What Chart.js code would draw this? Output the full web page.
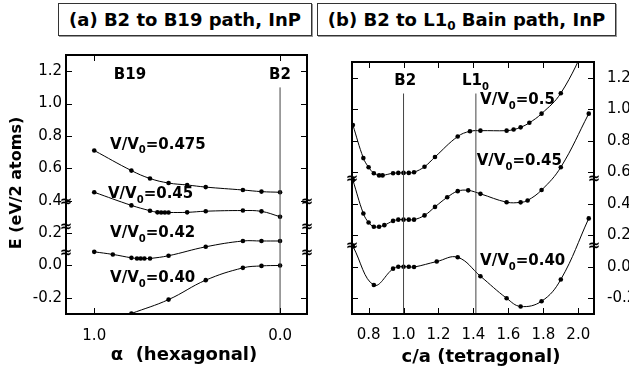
<!DOCTYPE html>
<html>
<head>
<meta charset="utf-8">
<script src="https://cdn.jsdelivr.net/npm/chart.js@4.4.1/dist/chart.umd.min.js"></script>
<style>
  html, body { margin: 0; padding: 0; width: 629px; height: 378px; overflow: hidden; background: #fff; }
  .box {
    position: absolute; top: 3px; height: 31px;
    border: 1px solid #333; box-shadow: 1px 1px 0 #999;
    font: bold 18px "DejaVu Sans", sans-serif; color: #000;
    text-align: center; line-height: 31px;
  }
  .box sub { font-size: 12px; line-height: 0; vertical-align: -4px; }
  canvas { position: absolute; }
</style>
</head>
<body>
<div class="box" style="left:58px;width:252px;">(a) B2 to B19 path, InP</div>
<div class="box" style="left:317px;width:297px;">(b) B2 to L1<sub>0</sub> Bain path, InP</div>
<canvas id="left" width="316" height="338" style="left:0;top:40px"></canvas>
<canvas id="right" width="342" height="338" style="left:318px;top:40px"></canvas>
<script>
// ---- panel (a): B2 -> B19, x = alpha ----
const alpha475 = [1.0, 0.8, 0.7, 0.6, 0.5, 0.4, 0.2, 0.1, 0.0];
const e475 = [0.71, 0.586, 0.537, 0.509, 0.497, 0.484, 0.466, 0.456, 0.452];

const alpha45 = [1.0, 0.8, 0.7, 0.66, 0.64, 0.62, 0.6, 0.5, 0.4, 0.2, 0.1, 0.0];
const e45 = [0.452, 0.371, 0.338, 0.328, 0.327, 0.327, 0.327, 0.328, 0.335, 0.339, 0.334, 0.301];

const alpha42 = [1.0, 0.9, 0.8, 0.77, 0.75, 0.73, 0.7, 0.6, 0.4, 0.2, 0.1, 0.0];
const e42 = [0.084, 0.068, 0.047, 0.043, 0.043, 0.043, 0.043, 0.060, 0.115, 0.151, 0.151, 0.151];

const alpha40 = [0.8, 0.6, 0.4, 0.2, 0.1, 0.0];
const e40 = [-0.297, -0.211, -0.091, -0.015, -0.003, 0.0];

// ---- panel (b): B2 -> L1_0 Bain path, x = c/a ----
const ca50 = [0.71, 0.77, 0.8, 0.83, 0.86, 0.88, 0.94, 0.97, 1.0, 1.03, 1.06, 1.12, 1.18, 1.31, 1.38, 1.44, 1.59, 1.63, 1.67, 1.72, 1.79, 1.9, 2.06];
const eb50 = [0.90, 0.69, 0.632, 0.594, 0.58, 0.58, 0.594, 0.596, 0.596, 0.596, 0.60, 0.635, 0.697, 0.827, 0.86, 0.864, 0.864, 0.871, 0.885, 0.914, 0.972, 1.102, 1.44];

const ca45 = [0.71, 0.77, 0.8, 0.83, 0.86, 0.89, 0.94, 0.97, 1.0, 1.03, 1.06, 1.12, 1.18, 1.25, 1.31, 1.37, 1.44, 1.59, 1.67, 1.71, 1.79, 1.9, 2.06];
const eb45 = [0.55, 0.338, 0.281, 0.254, 0.254, 0.264, 0.291, 0.299, 0.299, 0.299, 0.299, 0.326, 0.38, 0.441, 0.48, 0.485, 0.463, 0.41, 0.409, 0.421, 0.487, 0.632, 0.972];

const ca40 = [0.71, 0.83, 0.94, 0.97, 1.0, 1.03, 1.06, 1.19, 1.31, 1.44, 1.59, 1.67, 1.79, 1.9, 2.06];
const eb40 = [0.13, -0.116, -0.012, 0.0, 0.0, 0.0, -0.002, 0.033, 0.06, -0.06, -0.20, -0.252, -0.219, -0.081, 0.307];

// reference structures (vertical guide lines)
const leftGuides = [0.0];
const rightGuides = [1.0, 1.414];
const guideTop = 1.1;

// tick labels
const yTicks = [-0.2, 0.0, 0.2, 0.4, 0.6, 0.8, 1.0, 1.2];
const leftXTicks = [1.0, 0.0];
const rightXTicks = [0.8, 1.0, 1.2, 1.4, 1.6, 1.8, 2.0];

// axis breaks (energy shifts between curves)
const leftBreaks = [0.392, 0.237, 0.076];
const rightBreaks = [0.559, 0.132];

const FONT = '"DejaVu Sans", sans-serif';

function curve(xs, ys) {
    return {
        data: xs.map((x, i) => ({ x: x, y: ys[i] })),
        showLine: true,
        borderColor: '#000',
        borderWidth: 1,
        backgroundColor: '#000',
        pointRadius: 2.3,
        pointBorderWidth: 0,
        pointBackgroundColor: '#000',
        tension: 0.4
    };
}

function guide(x, bottom) {
    return {
        data: [{ x: x, y: bottom }, { x: x, y: guideTop }],
        showLine: true,
        borderColor: '#444',
        borderWidth: 1,
        pointRadius: 0,
        tension: 0
    };
}

// draws the frame, inward ticks, break marks and the text labels
const framePlugin = {
    id: 'frame',
    afterDatasetsDraw(chart, args, opts) {
        const ctx = chart.ctx;
        const a = chart.chartArea;
        const xs = chart.scales.x, ys = chart.scales.y;
        ctx.save();
        ctx.strokeStyle = '#000';
        ctx.lineWidth = 1;
        ctx.beginPath();
        xs.ticks.forEach(t => {
            const px = Math.round(xs.getPixelForValue(t.value)) + 0.5;
            ctx.moveTo(px, a.bottom); ctx.lineTo(px, a.bottom - 6);
            ctx.moveTo(px, a.top); ctx.lineTo(px, a.top + 6);
        });
        ys.ticks.forEach(t => {
            const py = Math.round(ys.getPixelForValue(t.value)) + 0.5;
            ctx.moveTo(a.left, py); ctx.lineTo(a.left + 6, py);
            ctx.moveTo(a.right, py); ctx.lineTo(a.right - 6, py);
        });
        ctx.stroke();
        ctx.lineWidth = 2;
        ctx.strokeRect(a.left, a.top, a.right - a.left, a.bottom - a.top);

        // break marks on both side borders
        ctx.fillStyle = '#000';
        ctx.font = 'bold 15px ' + FONT;
        ctx.textAlign = 'center';
        ctx.textBaseline = 'middle';
        (opts.breaks || []).forEach(v => {
            const py = ys.getPixelForValue(v);
            ctx.fillText('\u2248', a.left, py);
            ctx.fillText('\u2248', a.right, py);
        });

        // in-plot labels with optional subscript
        (opts.labels || []).forEach(l => {
            const px = xs.getPixelForValue(l.x);
            const py = ys.getPixelForValue(l.y);
            const big = 'bold 15px ' + FONT, small = 'bold 10px ' + FONT;
            ctx.font = big;
            const w1 = ctx.measureText(l.text).width;
            const w3 = l.rest ? ctx.measureText(l.rest).width : 0;
            ctx.font = small;
            const w2 = l.sub ? ctx.measureText(l.sub).width : 0;
            let x0 = l.align === 'center' ? px - (w1 + w2 + w3) / 2 : px;
            ctx.textAlign = 'left';
            ctx.font = big;
            ctx.fillText(l.text, x0, py);
            if (l.sub) {
                ctx.font = small;
                ctx.fillText(l.sub, x0 + w1, py + 6);
            }
            if (l.rest) {
                ctx.font = big;
                ctx.fillText(l.rest, x0 + w1 + w2, py);
            }
        });

        // axis titles
        (opts.titles || []).forEach(t => {
            ctx.save();
            ctx.translate(t.x, t.y);
            if (t.rotate) ctx.rotate(-Math.PI / 2);
            ctx.font = t.font;
            ctx.textAlign = 'center';
            ctx.textBaseline = 'middle';
            ctx.fillText(t.text, 0, 0);
            ctx.restore();
        });
        ctx.restore();
    }
};

function tickFont() {
    return { family: FONT, size: 15 };
}

// ---- chart (a) ----
new Chart(document.getElementById('left'), {
    type: 'scatter',
    data: {
        datasets: [
            ...leftGuides.map(x => guide(x, -0.3)),
            curve(alpha475, e475),
            curve(alpha45, e45),
            curve(alpha42, e42),
            curve(alpha40, e40)
        ]
    },
    options: {
        responsive: false,
        animation: false,
        events: [],
        layout: { padding: { top: 15, right: 9, left: 0, bottom: 0 } },
        plugins: {
            legend: { display: false },
            tooltip: { enabled: false },
            frame: {
                breaks: leftBreaks,
                labels: [
                    { x: 0.808, y: 1.178, text: 'B19', align: 'center' },
                    { x: 0.0, y: 1.178, text: 'B2', align: 'center' },
                    { x: 0.915, y: 0.745, text: 'V/V', sub: '0', rest: '=0.475' },
                    { x: 0.926, y: 0.44, text: 'V/V', sub: '0', rest: '=0.45' },
                    { x: 0.915, y: 0.20, text: 'V/V', sub: '0', rest: '=0.42' },
                    { x: 0.915, y: -0.079, text: 'V/V', sub: '0', rest: '=0.40' }
                ],
                titles: [
                    { text: '\u03b1  (hexagonal)', x: 184, y: 315, font: 'bold 18px ' + FONT },
                    { text: 'E (eV/2 atoms)', x: 17, y: 143, rotate: true, font: 'bold 16px ' + FONT }
                ]
            }
        },
        scales: {
            x: {
                type: 'linear',
                reverse: true,
                min: -0.145,
                max: 1.152,
                afterBuildTicks: s => { s.ticks = leftXTicks.map(v => ({ value: v })); },
                afterFit: s => { s.height = 64; },
                ticks: { callback: v => v.toFixed(1), font: tickFont(), color: '#000', padding: 13, maxRotation: 0, autoSkip: false },
                grid: { display: false, drawTicks: false },
                border: { display: false }
            },
            y: {
                min: -0.3,
                max: 1.3,
                afterBuildTicks: s => { s.ticks = yTicks.map(v => ({ value: v })); },
                afterFit: s => { s.width = 66; },
                ticks: { callback: v => v.toFixed(1), font: tickFont(), color: '#000', padding: 4, autoSkip: false },
                grid: { display: false, drawTicks: false },
                border: { display: false }
            }
        }
    },
    plugins: [framePlugin]
});

// ---- chart (b) ----
new Chart(document.getElementById('right'), {
    type: 'scatter',
    data: {
        datasets: [
            ...rightGuides.map(x => guide(x, -0.3)),
            curve(ca50, eb50),
            curve(ca45, eb45),
            curve(ca40, eb40)
        ]
    },
    options: {
        responsive: false,
        animation: false,
        events: [],
        layout: { padding: { top: 16, right: 0, left: 34, bottom: 0 } },
        plugins: {
            legend: { display: false },
            tooltip: { enabled: false },
            frame: {
                breaks: rightBreaks,
                labels: [
                    { x: 1.01, y: 1.178, text: 'B2', align: 'center' },
                    { x: 1.334, y: 1.178, text: 'L1', sub: '0' },
                    { x: 1.438, y: 1.055, text: 'V/V', sub: '0', rest: '=0.5' },
                    { x: 1.419, y: 0.670, text: 'V/V', sub: '0', rest: '=0.45' },
                    { x: 1.438, y: 0.033, text: 'V/V', sub: '0', rest: '=0.40' }
                ],
                titles: [
                    { text: 'c/a (tetragonal)', x: 163, y: 317, font: 'bold 18px ' + FONT }
                ]
            }
        },
        scales: {
            x: {
                type: 'linear',
                min: 0.705,
                max: 2.09,
                afterBuildTicks: s => { s.ticks = rightXTicks.map(v => ({ value: v })); },
                afterFit: s => { s.height = 64; },
                ticks: { callback: v => v.toFixed(1), font: tickFont(), color: '#000', padding: 12, maxRotation: 0, autoSkip: false },
                grid: { display: false, drawTicks: false },
                border: { display: false }
            },
            y: {
                position: 'right',
                min: -0.3,
                max: 1.3,
                afterBuildTicks: s => { s.ticks = yTicks.map(v => ({ value: v })); },
                afterFit: s => { s.width = 66; },
                ticks: { callback: v => v.toFixed(1), font: tickFont(), color: '#000', padding: 13, autoSkip: false },
                grid: { display: false, drawTicks: false },
                border: { display: false }
            }
        }
    },
    plugins: [framePlugin]
});
</script>
</body>
</html>
